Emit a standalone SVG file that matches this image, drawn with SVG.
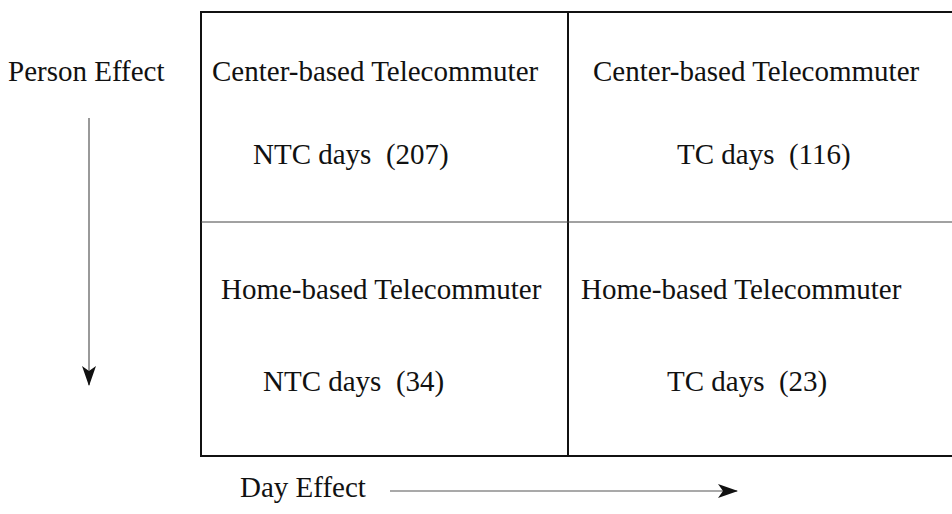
<svg xmlns="http://www.w3.org/2000/svg" width="952" height="514" viewBox="0 0 952 514">
<style>
text{font-family:"Liberation Serif","Times New Roman",serif;font-size:29px;fill:#111;white-space:pre}
.frame{fill:none;stroke:#111;stroke-width:2}
.thin{fill:none;stroke:#444;stroke-width:1}
.arrow{fill:none;stroke:#555;stroke-width:1.2}
</style>
<defs>
<marker id="head" viewBox="0 0 20 14" refX="19" refY="7" markerWidth="20" markerHeight="14" markerUnits="userSpaceOnUse" orient="auto">
<path d="M0,0 L20,7 L0,14 L5,7 Z" fill="#111"/>
</marker>
</defs>
<g id="grid">
<path class="frame" d="M960,12 H201 V456 H960"/>
<path class="frame" d="M568,12 V456"/>
<path class="thin" d="M201,222 H952"/>
</g>
<g id="cell-center-ntc"><text x="212" y="81">Center-based Telecommuter</text><text x="253" y="164" xml:space="preserve">NTC days  (207)</text></g>
<g id="cell-center-tc"><text x="593" y="81">Center-based Telecommuter</text><text x="677" y="164" xml:space="preserve">TC days  (116)</text></g>
<g id="cell-home-ntc"><text x="221" y="299">Home-based Telecommuter</text><text x="263" y="391" xml:space="preserve">NTC days  (34)</text></g>
<g id="cell-home-tc"><text x="581" y="299">Home-based Telecommuter</text><text x="667" y="391" xml:space="preserve">TC days  (23)</text></g>
<g id="label-person"><text x="8" y="81">Person Effect</text></g>
<g id="label-day"><text x="240" y="497">Day Effect</text></g>
<g id="connectors">
<path class="arrow" d="M89,118 V385" marker-end="url(#head)"/>
<path class="arrow" d="M390,491 H737" marker-end="url(#head)"/>
</g>
</svg>
